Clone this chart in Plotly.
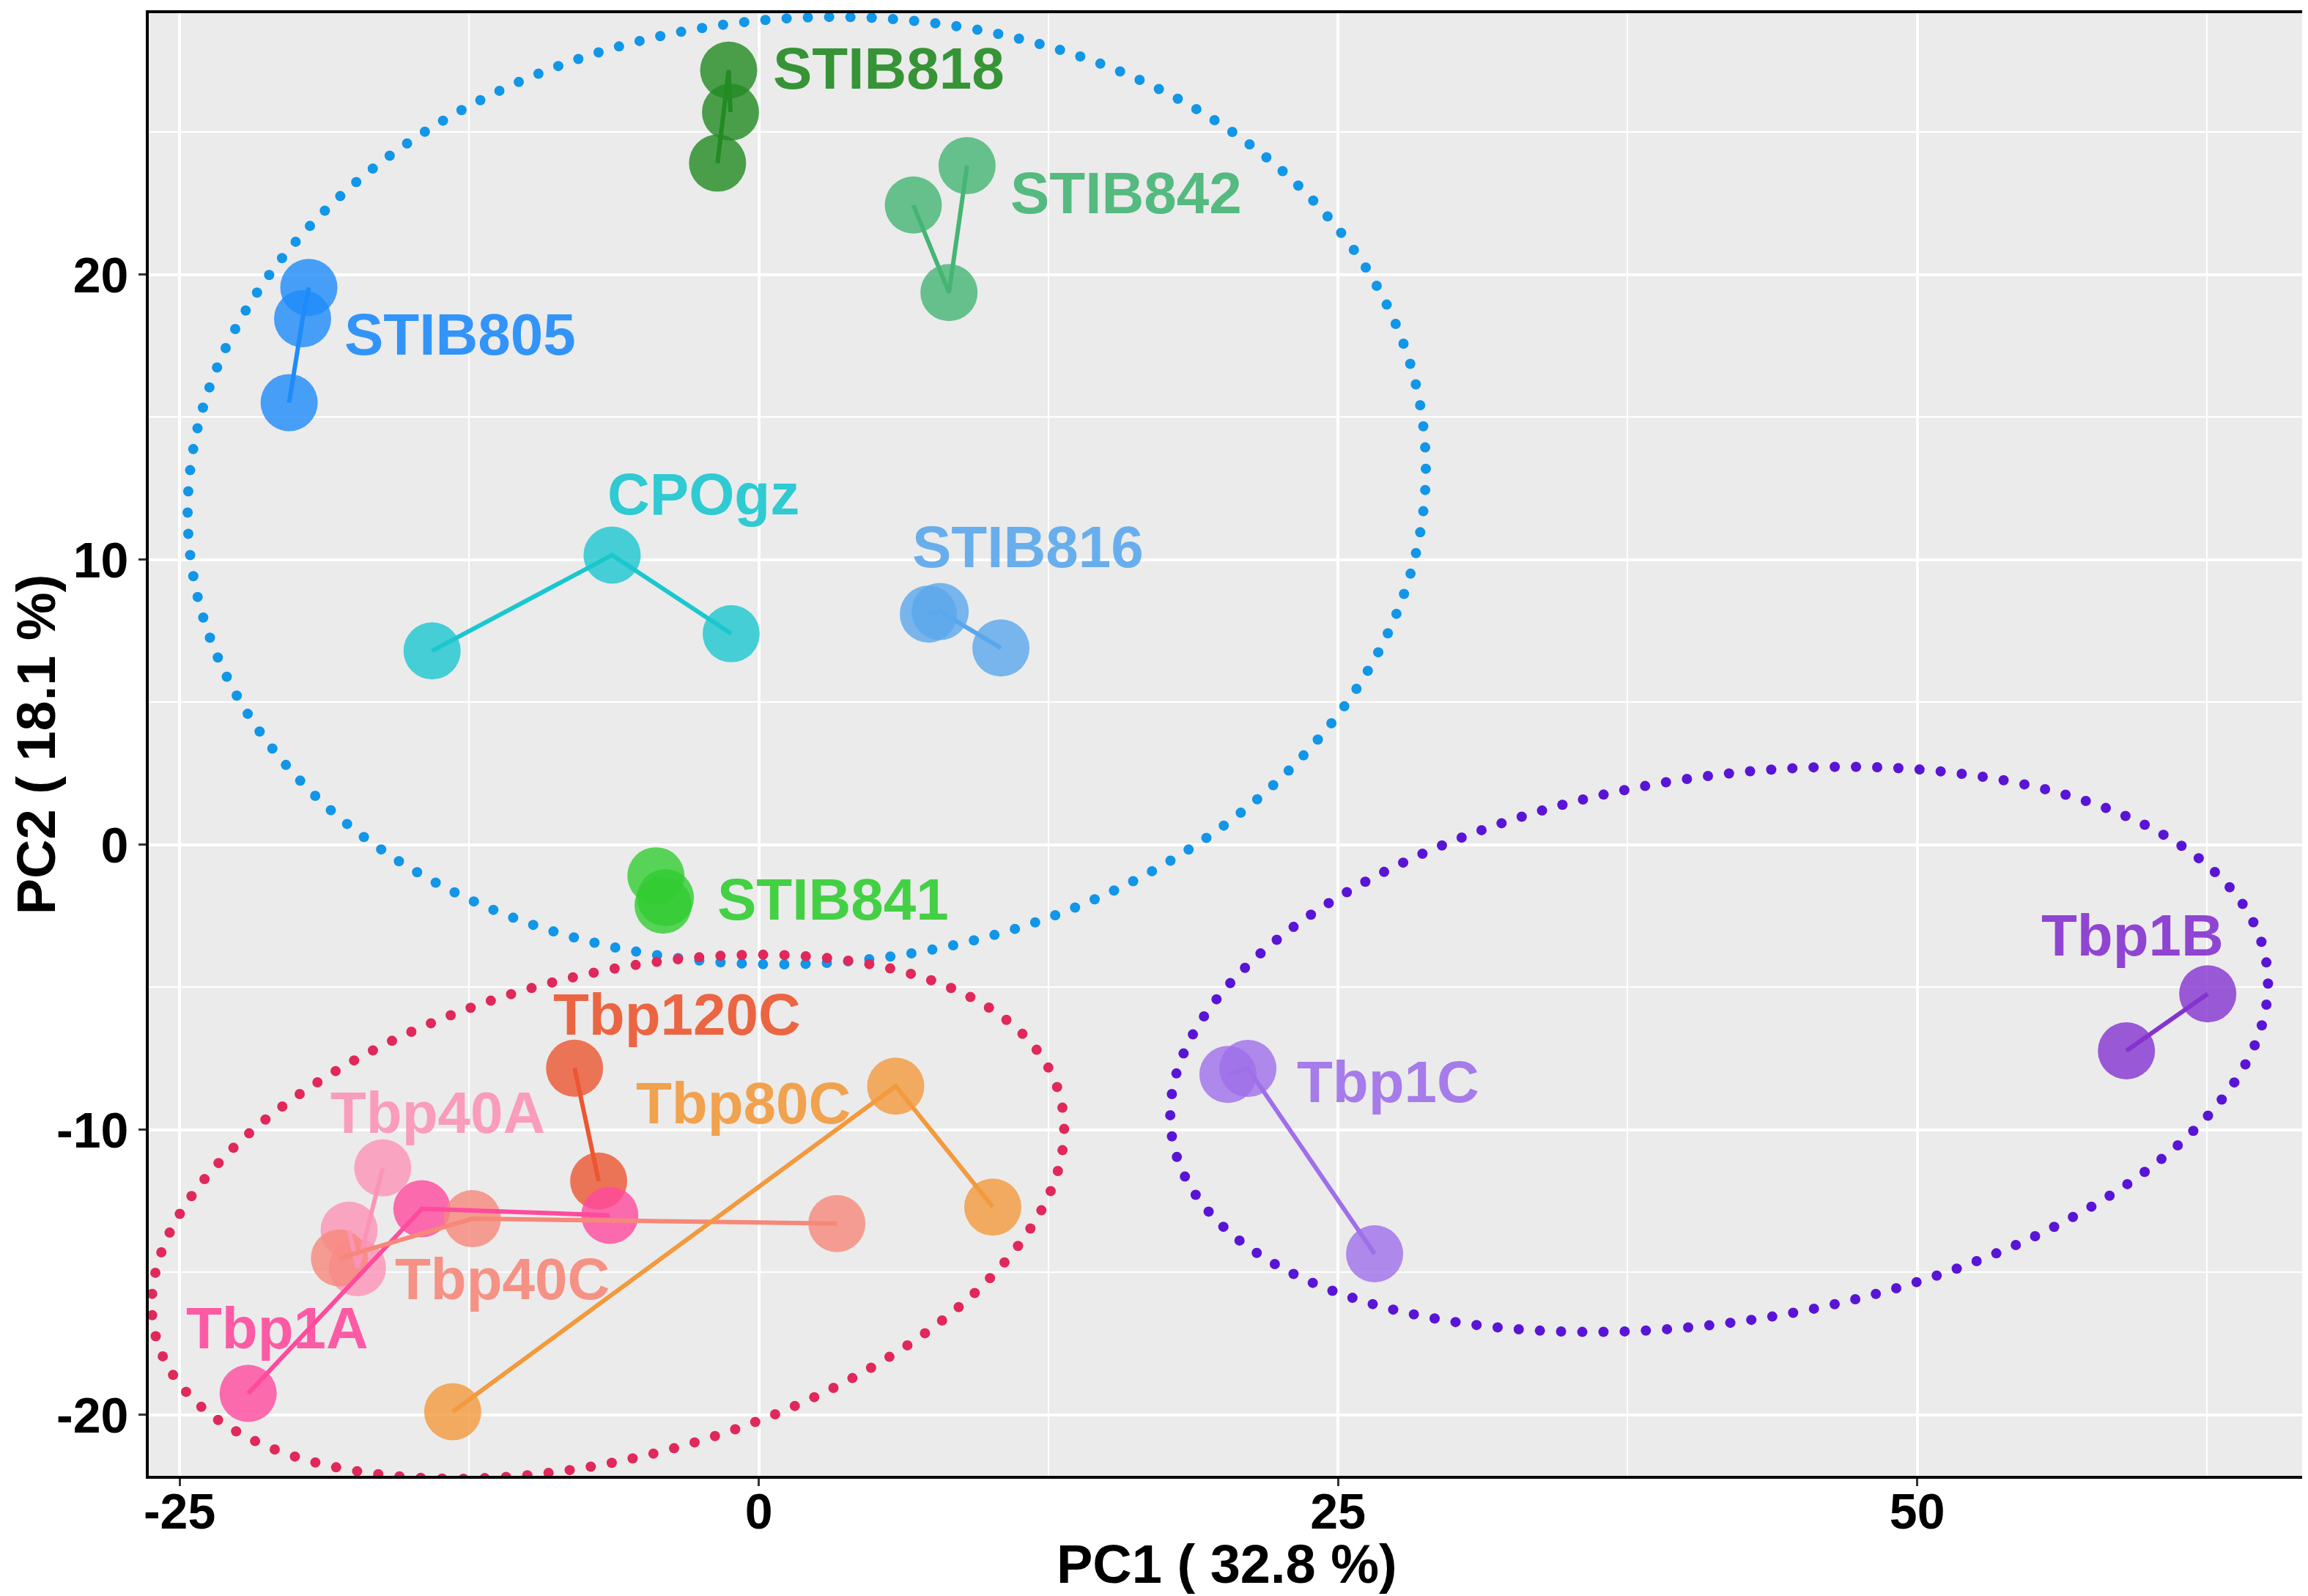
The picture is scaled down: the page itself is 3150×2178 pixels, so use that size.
import numpy as np
import plotly.graph_objects as go

# PCA scores, one list per strain
groups = ["CPOgz", "STIB805", "STIB816", "STIB818", "STIB841", "STIB842",
          "Tbp120C", "Tbp1A", "Tbp1B", "Tbp1C", "Tbp40A", "Tbp40C", "Tbp80C"]

pc1 = {
    "CPOgz":   [-14.10, -6.33, -1.19],
    "STIB805": [-19.42, -19.69, -20.27],
    "STIB816": [7.32, 7.83, 10.45],
    "STIB818": [-1.30, -1.22, -1.78],
    "STIB841": [-4.44, -4.13, -4.03],
    "STIB842": [8.99, 6.67, 8.21],
    "Tbp120C": [-7.95, -6.91],
    "Tbp1A":   [-22.04, -14.54, -6.43],
    "Tbp1B":   [59.03, 62.54],
    "Tbp1C":   [20.25, 21.11, 26.58],
    "Tbp40A":  [-16.23, -17.68, -17.32],
    "Tbp40C":  [-18.10, -12.36, 3.37],
    "Tbp80C":  [5.91, 10.10, -13.21],
}
pc2 = {
    "CPOgz":   [6.80, 10.16, 7.40],
    "STIB805": [19.55, 18.45, 15.51],
    "STIB816": [8.09, 8.18, 6.90],
    "STIB818": [27.17, 25.70, 23.91],
    "STIB841": [-1.09, -2.12, -1.86],
    "STIB842": [23.82, 22.44, 19.37],
    "Tbp120C": [-7.84, -11.80],
    "Tbp1A":   [-19.25, -12.77, -13.00],
    "Tbp1B":   [-7.23, -5.23],
    "Tbp1C":   [-8.06, -7.85, -14.35],
    "Tbp40A":  [-11.34, -13.52, -14.84],
    "Tbp40C":  [-14.50, -13.12, -13.29],
    "Tbp80C":  [-8.47, -12.71, -19.89],
}

colors = {
    "CPOgz": "#1BC7CF", "STIB805": "#1E8BFA", "STIB816": "#5AA7EC",
    "STIB818": "#228B22", "STIB841": "#32CD32", "STIB842": "#45B574",
    "Tbp120C": "#EC5631", "Tbp1A": "#FF4A9D", "Tbp1B": "#8533CF",
    "Tbp1C": "#9F6FEA", "Tbp40A": "#FC94B7", "Tbp40C": "#F6887A",
    "Tbp80C": "#F29A3D",
}

# label anchor (centre of capitals) for each strain
label_pos = {
    "STIB818": (5.61, 27.23), "STIB842": (15.86, 22.87), "STIB805": (-12.90, 17.90),
    "CPOgz": (-2.40, 12.29), "STIB816": (11.62, 10.44), "STIB841": (3.21, -1.91),
    "Tbp120C": (-3.53, -5.97), "Tbp80C": (-0.68, -9.07), "Tbp40A": (-13.87, -9.39),
    "Tbp40C": (-11.08, -15.23), "Tbp1A": (-20.79, -16.96), "Tbp1C": (27.17, -8.32),
    "Tbp1B": (59.28, -3.18),
}

# cluster ellipses: centre x, centre y, half width, half height, shear, colour
ellipses = [
    (2.07, 12.42, 26.72, 16.60, 0.77, "#1196E8"),
    (-6.51, -13.05, 19.69, 8.66, 3.08, "#E0285A"),
    (41.45, -7.18, 23.69, 9.64, 2.31, "#5A14D6"),
]

x_range = [-26.33, 66.74]
y_range = [-22.14, 29.17]

W, H = 3150, 2178
ML, MR, MT, MB = 195, 12, 10, 172
px_x = (W - ML - MR) / (x_range[1] - x_range[0])
px_y = (H - MT - MB) / (y_range[1] - y_range[0])

FONT = "Liberation Sans, Arial"


def hex_rgba(h, a):
    h = h.lstrip("#")
    return "rgba(%d,%d,%d,%.2f)" % (int(h[0:2], 16), int(h[2:4], 16), int(h[4:6], 16), a)


def ellipse_dots(cx, cy, rx, ry, sh, gap=29):
    # evenly spaced dots (in screen pixels) round the outline
    t = np.linspace(0, 2 * np.pi, 4000)
    ex = cx + rx * np.cos(t)
    ey = cy + ry * np.sin(t) + sh * np.cos(t)
    d = np.concatenate([[0], np.cumsum(np.hypot(np.diff(ex) * px_x, np.diff(ey) * px_y))])
    n = int(round(d[-1] / gap))
    s = np.linspace(0, d[-1], n, endpoint=False)
    return np.interp(s, d, ex), np.interp(s, d, ey)


fig = go.Figure()

for g in groups:
    fig.add_trace(go.Scatter(
        x=pc1[g], y=pc2[g], mode="markers",
        marker=dict(size=78, color=colors[g], opacity=0.8, line=dict(width=0)),
        showlegend=False, hoverinfo="skip"))

for g in groups:
    order = np.argsort(pc1[g])
    fig.add_trace(go.Scatter(
        x=np.array(pc1[g])[order], y=np.array(pc2[g])[order], mode="lines",
        line=dict(color=colors[g], width=6), showlegend=False, hoverinfo="skip"))

for cx, cy, rx, ry, sh, col in ellipses:
    ex, ey = ellipse_dots(cx, cy, rx, ry, sh)
    fig.add_trace(go.Scatter(
        x=ex, y=ey, mode="markers", marker=dict(size=14, color=col),
        showlegend=False, hoverinfo="skip"))

for g in groups:
    lx, ly = label_pos[g]
    fig.add_annotation(x=lx, y=ly, text="<b>%s</b>" % g, showarrow=False,
                       xanchor="center", yanchor="middle",
                       font=dict(family=FONT, size=80, color=hex_rgba(colors[g], 0.9)))

# x title placed by hand just under the tick labels
fig.add_annotation(x=0.5, y=0, xref="paper", yref="paper", yshift=-120,
                   text="<b>PC1 ( 32.8 %)</b>", showarrow=False,
                   xanchor="center", yanchor="middle",
                   font=dict(family=FONT, size=74, color="black"))

axis_common = dict(
    automargin=False,
    showgrid=True, gridcolor="white", gridwidth=3.5, zeroline=False,
    showline=True, mirror=True, linecolor="black", linewidth=4,
    ticks="outside", ticklen=10, tickwidth=3, tickcolor="#333333",
    tickfont=dict(family=FONT, size=68, color="black"),
)

fig.update_xaxes(
    range=x_range, tickvals=[-25, 0, 25, 50], ticktext=["<b>-25</b>", "<b>0</b>", "<b>25</b>", "<b>50</b>"],
    ticklabelstandoff=-24,
    minor=dict(tickvals=[-12.5, 12.5, 37.5, 62.5], showgrid=True, gridcolor="white", gridwidth=2, ticks=""),
    **axis_common)
fig.update_yaxes(
    range=y_range, tickvals=[-20, -10, 0, 10, 20],
    ticktext=["<b>-20</b>", "<b>-10</b>", "<b>0</b>", "<b>10</b>", "<b>20</b>"],
    minor=dict(tickvals=[-15, -5, 5, 15, 25], showgrid=True, gridcolor="white", gridwidth=2, ticks=""),
    title=dict(text="<b>PC2 ( 18.1 %)</b>", font=dict(family=FONT, size=74, color="black"), standoff=4),
    **axis_common)

fig.update_layout(
    width=W, height=H,
    margin=dict(l=ML, r=MR, t=MT, b=MB),
    paper_bgcolor="white", plot_bgcolor="#EBEBEB",
)

fig.write_html("out.html")
